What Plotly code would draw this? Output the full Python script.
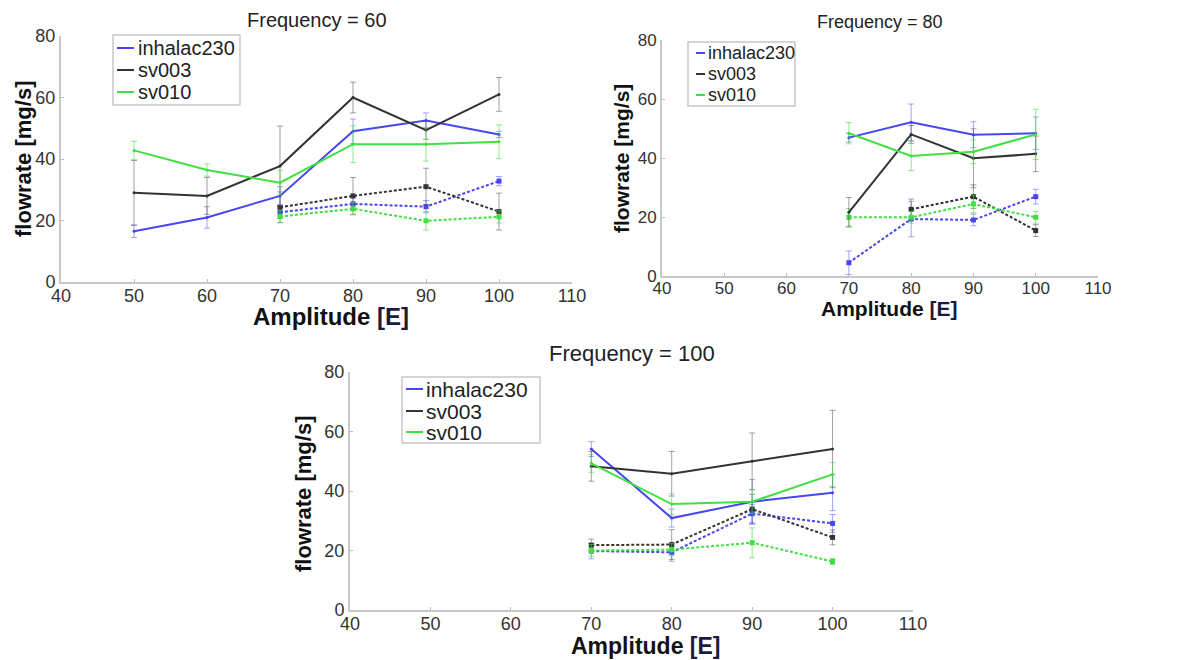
import plotly.graph_objects as go

W, H = 1179, 660
OFF = 8  # page body offset of the rendered figure

# ---------------- data ----------------
series_names = ["inhalac230", "sv003", "sv010"]
x_ticks = [40, 50, 60, 70, 80, 90, 100, 110]
y_ticks = [0, 20, 40, 60, 80]
panel_titles = ["Frequency = 60", "Frequency = 80", "Frequency = 100"]
x_title = "Amplitude <span style='color:#1b1b40'>[E]</span>"
y_title = "flowrate [mg/s]"

# Frequency = 60
f60_amp = [50, 60, 70, 80, 90, 100]
f60_amp_dash = [70, 80, 90, 100]
f60_inhalac230 = [16.5, 21.0, 28.0, 49.0, 52.5, 48.0]
f60_inhalac230_err = [2.0, 3.5, 3.0, 4.0, 2.5, 1.0]
f60_sv003 = [29.0, 28.0, 37.7, 60.0, 49.4, 61.0]
f60_sv003_err = [10.5, 6.0, 13.0, 5.0, 3.0, 5.5]
f60_sv010 = [42.8, 36.4, 32.3, 44.8, 44.8, 45.6]
f60_sv010_err = [3.0, 2.0, 4.0, 6.0, 5.5, 5.5]
f60_inhalac230_dash = [22.7, 25.4, 24.5, 32.8]
f60_inhalac230_dash_err = [2.0, 2.0, 2.0, 1.5]
f60_sv003_dash = [24.3, 28.0, 31.0, 22.9]
f60_sv003_dash_err = [5.0, 6.0, 6.0, 6.0]
f60_sv010_dash = [21.3, 23.8, 19.9, 21.2]
f60_sv010_dash_err = [2.0, 2.0, 3.0, 2.0]

# Frequency = 80
f80_amp = [70, 80, 90, 100]
f80_amp_sv003_dash = [80, 90, 100]
f80_inhalac230 = [46.9, 52.1, 47.9, 48.4]
f80_inhalac230_err = [1.5, 6.2, 4.4, 5.5]
f80_sv003 = [21.6, 48.0, 39.9, 41.4]
f80_sv003_err = [5.0, 3.0, 10.0, 6.0]
f80_sv010 = [48.4, 40.7, 42.1, 48.0]
f80_sv010_err = [3.6, 5.0, 4.0, 8.5]
f80_inhalac230_dash = [4.5, 19.3, 19.0, 26.9]
f80_inhalac230_dash_err = [4.0, 6.0, 2.0, 2.5]
f80_sv003_dash = [22.6, 26.9, 15.4]
f80_sv003_dash_err = [3.5, 4.0, 2.0]
f80_sv010_dash = [19.9, 19.9, 24.4, 19.9]
f80_sv010_dash_err = [3.0, 2.0, 3.0, 2.0]

# Frequency = 100
f100_amp = [70, 80, 90, 100]
f100_inhalac230 = [54.1, 30.9, 36.4, 39.4]
f100_inhalac230_err = [2.5, 3.0, 7.5, 6.0]
f100_sv003 = [48.3, 45.8, 50.0, 54.1]
f100_sv003_err = [5.0, 7.5, 9.5, 13.0]
f100_sv010 = [49.3, 35.6, 36.4, 45.6]
f100_sv010_err = [3.0, 3.5, 4.0, 4.0]
f100_inhalac230_dash = [19.8, 19.4, 32.4, 29.1]
f100_inhalac230_dash_err = [2.6, 3.0, 3.0, 3.0]
f100_sv003_dash = [21.8, 22.0, 33.9, 24.4]
f100_sv003_dash_err = [2.0, 5.0, 5.0, 2.5]
f100_sv010_dash = [20.0, 20.3, 22.6, 16.3]
f100_sv010_dash_err = [2.0, 2.0, 5.0, 1.0]

# ---------------- style ----------------
FONT = "Liberation Sans, Arial, sans-serif"
colors = {"inhalac230": "#4646f2", "sv003": "#333333", "sv010": "#3fe03f"}
err_colors = {"inhalac230": "rgba(90,90,245,0.55)",
              "sv003": "rgba(70,70,70,0.5)",
              "sv010": "rgba(70,220,70,0.6)"}

panels = [
    dict(ax="", title=panel_titles[0], px=(61, 572), py=(36, 282),
         solid=[(f60_amp, f60_inhalac230, f60_inhalac230_err),
                (f60_amp, f60_sv003, f60_sv003_err),
                (f60_amp, f60_sv010, f60_sv010_err)],
         dash=[(f60_amp_dash, f60_inhalac230_dash, f60_inhalac230_dash_err),
               (f60_amp_dash, f60_sv003_dash, f60_sv003_dash_err),
               (f60_amp_dash, f60_sv010_dash, f60_sv010_dash_err)],
         tfont=20, tickfont=18, titley=20,
         xt=dict(x=331, y=316, fs=24), yt=dict(x=24, y=159, fs=22),
         legend=dict(box=(113, 35, 240, 105), rows=(48, 70, 92), line=(117, 134), text=136, fs=20)),
    dict(ax="2", title=panel_titles[1], px=(662, 1098), py=(40, 276),
         solid=[(f80_amp, f80_inhalac230, f80_inhalac230_err),
                (f80_amp, f80_sv003, f80_sv003_err),
                (f80_amp, f80_sv010, f80_sv010_err)],
         dash=[(f80_amp, f80_inhalac230_dash, f80_inhalac230_dash_err),
               (f80_amp_sv003_dash, f80_sv003_dash, f80_sv003_dash_err),
               (f80_amp, f80_sv010_dash, f80_sv010_dash_err)],
         tfont=18, tickfont=17, titley=22,
         xt=dict(x=889, y=308, fs=21), yt=dict(x=622, y=159, fs=21),
         legend=dict(box=(688, 42, 795, 106), rows=(53, 74, 95), line=(696, 705), text=706, fs=18)),
    dict(ax="3", title=panel_titles[2], px=(350, 913), py=(372, 610),
         solid=[(f100_amp, f100_inhalac230, f100_inhalac230_err),
                (f100_amp, f100_sv003, f100_sv003_err),
                (f100_amp, f100_sv010, f100_sv010_err)],
         dash=[(f100_amp, f100_inhalac230_dash, f100_inhalac230_dash_err),
               (f100_amp, f100_sv003_dash, f100_sv003_dash_err),
               (f100_amp, f100_sv010_dash, f100_sv010_dash_err)],
         tfont=22, tickfont=18, titley=353,
         xt=dict(x=646, y=646, fs=23), yt=dict(x=303, y=494, fs=22),
         legend=dict(box=(402, 377, 540, 443), rows=(389, 411, 432), line=(406, 423), text=424, fs=21)),
]


def px2x(p):
    return (p - OFF) / W


def py2y(p):
    return 1 - (p - OFF) / H


fig = go.Figure()
shapes = []
annotations = []

for panel in panels:
    xa = "x" + panel["ax"]
    ya = "y" + panel["ax"]
    for name, (xs, ys, es) in zip(series_names, panel["dash"]):
        fig.add_trace(go.Scatter(
            x=xs, y=ys, xaxis=xa, yaxis=ya, name=name, showlegend=False,
            mode="lines+markers",
            line=dict(color=colors[name], width=2, dash="3px,2px"),
            marker=dict(color=colors[name], size=5, symbol="square"),
            error_y=dict(type="data", array=es, color=err_colors[name], thickness=1, width=3),
        ))
    for name, (xs, ys, es) in zip(series_names, panel["solid"]):
        fig.add_trace(go.Scatter(
            x=xs, y=ys, xaxis=xa, yaxis=ya, name=name, showlegend=False,
            mode="lines+markers",
            line=dict(color=colors[name], width=2),
            marker=dict(color=colors[name], size=3),
            error_y=dict(type="data", array=es, color=err_colors[name], thickness=1, width=3),
        ))

    x0, x1 = panel["px"]
    y0, y1 = panel["py"]
    axis_common = dict(showgrid=False, zeroline=False, showline=True, automargin=False,
                       linecolor="#c8c8c8", linewidth=2, ticks="inside",
                       ticklen=3, tickcolor="#bbbbbb",
                       tickfont=dict(family=FONT, size=panel["tickfont"], color="#333333"))
    fig.layout["xaxis" + panel["ax"]] = dict(
        domain=[px2x(x0), px2x(x1)], anchor=ya, range=[40, 110], tickvals=x_ticks,
        ticklabelstandoff=-4, **axis_common)
    fig.layout["yaxis" + panel["ax"]] = dict(
        domain=[py2y(y1), py2y(y0)], anchor=xa, range=[0, 80], tickvals=y_ticks,
        **axis_common)

    # axis titles
    xt, yt = panel["xt"], panel["yt"]
    annotations.append(dict(
        text=x_title, xref="paper", yref="paper", x=px2x(xt["x"]), y=py2y(xt["y"]),
        xanchor="center", yanchor="middle", showarrow=False,
        font=dict(family=FONT, size=xt["fs"], color="#111111", weight="bold")))
    annotations.append(dict(
        text=y_title, xref="paper", yref="paper", x=px2x(yt["x"]), y=py2y(yt["y"]),
        xanchor="center", yanchor="middle", showarrow=False, textangle=-90,
        font=dict(family=FONT, size=yt["fs"], color="#111111", weight="bold")))

    # panel title
    annotations.append(dict(
        text=panel["title"], xref="paper", yref="paper",
        x=px2x((x0 + x1) / 2), y=py2y(panel["titley"]), xanchor="center", yanchor="middle",
        showarrow=False, font=dict(family=FONT, size=panel["tfont"], color="#222222")))

    # legend box
    lg = panel["legend"]
    bx0, by0, bx1, by1 = lg["box"]
    shapes.append(dict(type="rect", xref="paper", yref="paper",
                       x0=px2x(bx0), x1=px2x(bx1), y0=py2y(by1), y1=py2y(by0),
                       line=dict(color="#c8c8c8", width=1.5), fillcolor="white", layer="above"))
    for name, ry in zip(series_names, lg["rows"]):
        shapes.append(dict(type="line", xref="paper", yref="paper",
                           x0=px2x(lg["line"][0]), x1=px2x(lg["line"][1]),
                           y0=py2y(ry), y1=py2y(ry),
                           line=dict(color=colors[name], width=2), layer="above"))
        annotations.append(dict(
            text=name, xref="paper", yref="paper", x=px2x(lg["text"]), y=py2y(ry),
            xanchor="left", yanchor="middle", showarrow=False,
            font=dict(family=FONT, size=lg["fs"], color="#222222")))

fig.update_layout(
    template="none",
    width=W, height=H,
    margin=dict(l=0, r=0, t=0, b=0, pad=0),
    paper_bgcolor="white", plot_bgcolor="white",
    showlegend=False,
    shapes=shapes, annotations=annotations,
    font=dict(family=FONT),
)

fig.write_html("out.html")
